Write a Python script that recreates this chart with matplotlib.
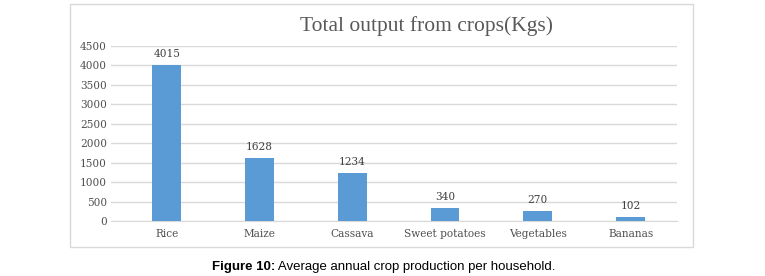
import matplotlib
matplotlib.use("Agg")
import matplotlib.pyplot as plt
from matplotlib.patches import Rectangle

categories = ["Rice", "Maize", "Cassava", "Sweet potatoes", "Vegetables", "Bananas"]
values = [4015, 1628, 1234, 340, 270, 102]
yticks = [0, 500, 1000, 1500, 2000, 2500, 3000, 3500, 4000, 4500]

fig = plt.figure(figsize=(7.65, 2.76), dpi=100)
W, H = 765, 276

# chart border
fig.patches.append(Rectangle((70 / W, 1 - 247 / H), (693 - 70) / W, (247 - 4) / H,
                             transform=fig.transFigure, fill=False,
                             edgecolor="#D9D9D9", linewidth=1.0))

ax = fig.add_axes([111 / W, 1 - 221 / H, (677 - 111) / W, (221 - 46) / H])
x = list(range(len(categories)))
ax.bar(x, values, width=0.31, color="#5B9BD5", zorder=3)
ax.set_xlim(-0.6, 5.5)
ax.set_ylim(0, 4500)
ax.set_yticks(yticks)
ax.set_yticklabels([str(t) for t in yticks], family="DejaVu Serif", fontsize=7.6, color="#505050")
ax.set_xticks(x)
ax.set_xticklabels(categories, family="DejaVu Serif", fontsize=7.6, color="#505050")
ax.tick_params(axis="x", length=0, pad=6)
ax.tick_params(axis="y", length=0, pad=3)
ax.grid(axis="y", color="#D9D9D9", linewidth=1.0, zorder=0)
for s in ax.spines.values():
    s.set_visible(False)
ax.spines["bottom"].set_visible(True)
ax.spines["bottom"].set_color("#D9D9D9")

for xi, v in zip(x, values):
    ax.annotate(str(v), (xi, v), xytext=(0, 4), textcoords="offset points",
                ha="center", va="bottom", family="DejaVu Serif",
                fontsize=7.6, color="#404040")

fig.text(426 / W, 1 - 26 / H, "Total output from crops(Kgs)", ha="center", va="center",
         family="Liberation Serif", fontsize=15.5, color="#595959")

# caption
fig.canvas.draw()
r = fig.canvas.get_renderer()
t1 = fig.text(0, 1 - 267 / H, "Figure 10:", ha="left", va="center",
              family="Liberation Sans", fontsize=9.5, fontweight="bold", color="black")
t2 = fig.text(0, 1 - 267 / H, " Average annual crop production per household.", ha="left", va="center",
              family="Liberation Sans", fontsize=9.5, color="black")
w1 = t1.get_window_extent(r).width
w2 = t2.get_window_extent(r).width
start = 383.5 - (w1 + w2) / 2
t1.set_x(start / W)
t2.set_x((start + w1) / W)

fig.savefig("out.png", dpi=100)
